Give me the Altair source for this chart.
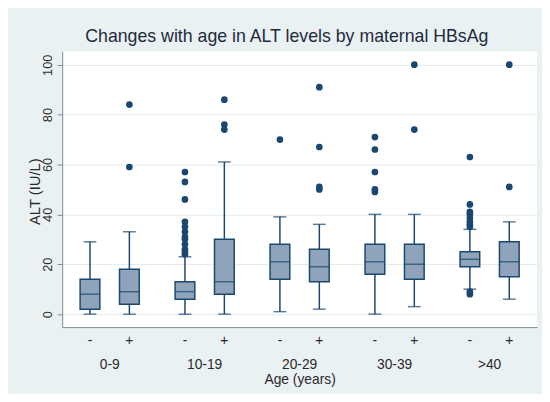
import altair as alt
import pandas as pd

# ---- data ----
groups = ["0-9", "10-19", "20-29", "30-39", ">40"]
signs = ["-", "+"]

box_group = ["0-9", "0-9", "10-19", "10-19", "20-29", "20-29", "30-39", "30-39", ">40", ">40"]
box_sign = ["-", "+", "-", "+", "-", "+", "-", "+", "-", "+"]
whisk_lo = [0, 0, 0, 0, 1, 2, 0, 3, 10, 6]
q1 = [2, 4, 6, 8, 14, 13, 16, 14, 19, 15]
median = [8, 9, 9, 13, 21, 19, 21, 20, 22, 21]
q3 = [14, 18, 13, 30, 28, 26, 28, 28, 25, 29]
whisk_hi = [29, 33, 23, 61, 39, 36, 40, 40, 34, 37]

out_group = (["0-9"] * 2 + ["10-19"] * 12 + ["10-19"] * 3 + ["20-29"] * 1 + ["20-29"] * 4
             + ["30-39"] * 5 + ["30-39"] * 2 + [">40"] * 10 + [">40"] * 2)
out_sign = (["+"] * 2 + ["-"] * 12 + ["+"] * 3 + ["-"] * 1 + ["+"] * 4
            + ["-"] * 5 + ["+"] * 2 + ["-"] * 10 + ["+"] * 2)
out_value = ([84, 59]
             + [57, 53, 46, 37, 35, 33, 31, 30, 28, 26, 25, 24]
             + [86, 76, 74]
             + [70]
             + [91, 67, 51, 50]
             + [71, 66, 57, 50, 49]
             + [100, 74]
             + [63, 44, 41, 40, 38.5, 37, 36, 35, 9, 8]
             + [100, 51])

y_ticks = [0, 20, 40, 60, 80, 100]

boxes = pd.DataFrame({"group": box_group, "sign": box_sign, "lo": whisk_lo,
                      "q1": q1, "med": median, "q3": q3, "hi": whisk_hi})
outs = pd.DataFrame({"group": out_group, "sign": out_sign, "value": out_value})
sign_df = pd.DataFrame({"group": box_group, "sign": box_sign})

FONT = "Liberation Sans"
NAVY = "#1a476f"
FILL = "#8fa4ba"
W, H = 482, 280

x_enc = alt.X("group:N", sort=groups, title="Age (years)",
              scale=alt.Scale(paddingInner=0, paddingOuter=0),
              axis=alt.Axis(labelAngle=0, ticks=False, tickSize=0, labelPadding=31,
                            labelFontSize=14, labelColor="#2a2a2a", labelFont=FONT,
                            titleFont=FONT, titleFontSize=14, titleFontWeight="normal",
                            titleColor="#2a2a2a", titlePadding=1,
                            domainColor="#7d8a92", grid=False))
xo_enc = alt.XOffset("sign:N", sort=signs,
                     scale=alt.Scale(paddingInner=0, paddingOuter=0.205))
y_scale = alt.Scale(domain=[-5.2, 105.4], nice=False, zero=False)
y_axis = alt.Axis(values=y_ticks, title="ALT (IU/L)", labelAngle=270,
                  labelAlign="center", labelBaseline="bottom", labelPadding=3,
                  tickSize=5, tickColor="#7d8a92", domainColor="#7d8a92",
                  labelFontSize=13, labelColor="#2a2a2a", labelFont=FONT,
                  titleFont=FONT, titleFontSize=15, titleFontWeight="normal",
                  titleColor="#2a2a2a", titleAngle=270, titleX=-28, titleY=H / 2 + 2,
                  titleAlign="center", titleBaseline="middle",
                  gridColor="#e3ebee", gridWidth=1)

base_b = alt.Chart(boxes)

whisker = base_b.mark_rule(color=NAVY, strokeWidth=1.5).encode(
    x=x_enc, xOffset=xo_enc,
    y=alt.Y("lo:Q", scale=y_scale, axis=y_axis), y2="hi:Q")
cap_lo = base_b.mark_tick(color=NAVY, size=13, thickness=1.5, orient="horizontal").encode(
    x=x_enc, xOffset=xo_enc, y=alt.Y("lo:Q", scale=y_scale))
cap_hi = base_b.mark_tick(color=NAVY, size=13, thickness=1.5, orient="horizontal").encode(
    x=x_enc, xOffset=xo_enc, y=alt.Y("hi:Q", scale=y_scale))
box = base_b.mark_bar(size=20, fill=FILL, stroke=NAVY, strokeWidth=1.5, opacity=1).encode(
    x=x_enc, xOffset=xo_enc, y=alt.Y("q1:Q", scale=y_scale), y2="q3:Q")
med = base_b.mark_tick(color=NAVY, size=20, thickness=1.5, orient="horizontal").encode(
    x=x_enc, xOffset=xo_enc, y=alt.Y("med:Q", scale=y_scale))
pts = alt.Chart(outs).mark_circle(color=NAVY, size=46, opacity=1).encode(
    x=x_enc, xOffset=xo_enc, y=alt.Y("value:Q", scale=y_scale))
sign_txt = alt.Chart(sign_df).mark_text(font=FONT, fontSize=14, color="#2a2a2a",
                                        baseline="middle").encode(
    x=x_enc, xOffset=xo_enc, y=alt.value(H + 14), text="sign:N")

chart = alt.layer(whisker, cap_lo, cap_hi, box, med, pts, sign_txt).properties(
    width=W, height=H,
    title=alt.TitleParams("Changes with age in ALT levels by maternal HBsAg",
                          font=FONT, fontSize=18, fontWeight="normal", color="#1f2a3c",
                          anchor="middle", dx=-13, dy=15, baseline="alphabetic", offset=6),
    autosize=alt.AutoSizeParams(type="none"),
    padding={"left": 55, "top": 41, "right": 5, "bottom": 65},
    background="#eaf1f3",
).configure_view(fill="white", stroke=None)

chart.save("out.html", embed_options={"renderer": "svg", "actions": False})
